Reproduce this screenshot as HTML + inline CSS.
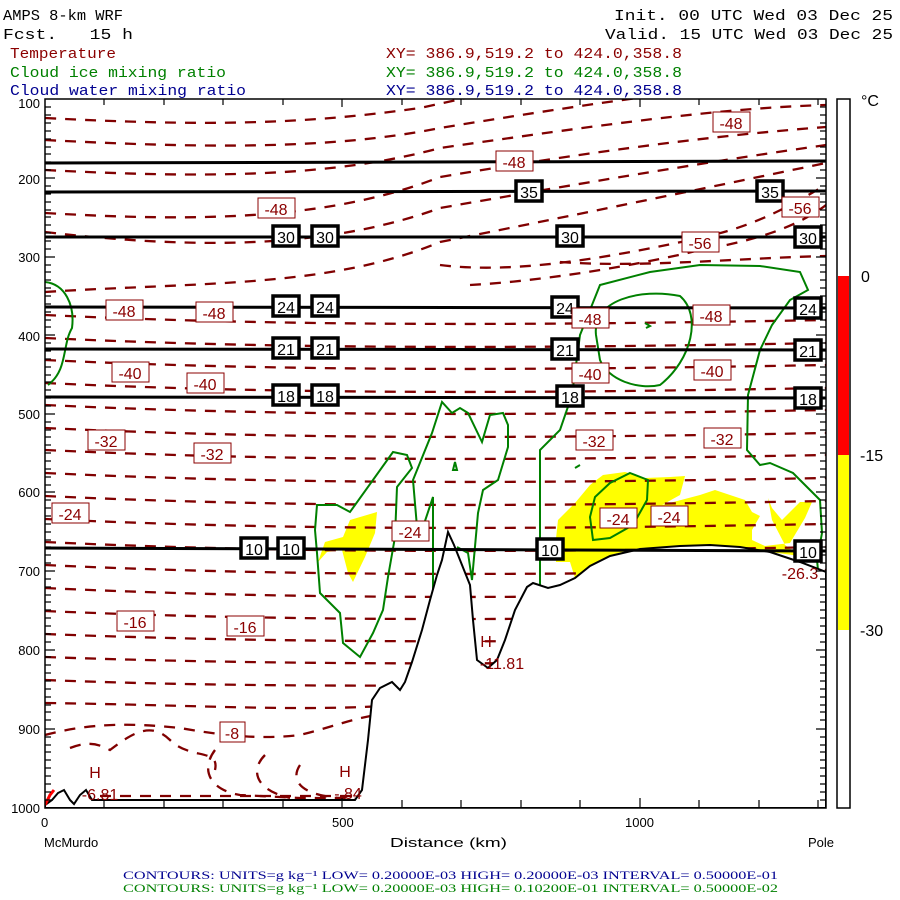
<!DOCTYPE html>
<html><head><meta charset="utf-8"><style>
html,body{margin:0;padding:0;background:#fff;}
svg{display:block;}
</style></head><body>
<svg width="900" height="900" viewBox="0 0 900 900" xmlns="http://www.w3.org/2000/svg" font-family="'Liberation Sans', sans-serif">
<defs>
<clipPath id="pc"><rect x="45" y="99" width="781" height="709"/></clipPath>
</defs>
<rect width="900" height="900" fill="#fff"/>
<!-- header text -->
<g font-family="'Liberation Mono', monospace" font-size="15">
<text x="3" y="20" textLength="120" lengthAdjust="spacingAndGlyphs">AMPS 8-km WRF</text>
<text x="3" y="39" textLength="130" lengthAdjust="spacingAndGlyphs" xml:space="preserve">Fcst.   15 h</text>
<text x="614" y="20" textLength="279" lengthAdjust="spacingAndGlyphs">Init. 00 UTC Wed 03 Dec 25</text>
<text x="605" y="39" textLength="288" lengthAdjust="spacingAndGlyphs">Valid. 15 UTC Wed 03 Dec 25</text>
<text x="10" y="58" fill="#8b0000" textLength="106" lengthAdjust="spacingAndGlyphs">Temperature</text>
<text x="10" y="77" fill="#008000" textLength="216" lengthAdjust="spacingAndGlyphs">Cloud ice mixing ratio</text>
<text x="10" y="95" fill="#000090" textLength="236" lengthAdjust="spacingAndGlyphs">Cloud water mixing ratio</text>
<text x="386" y="58" fill="#8b0000" textLength="296" lengthAdjust="spacingAndGlyphs">XY= 386.9,519.2 to 424.0,358.8</text>
<text x="386" y="77" fill="#008000" textLength="296" lengthAdjust="spacingAndGlyphs">XY= 386.9,519.2 to 424.0,358.8</text>
<text x="386" y="95" fill="#000090" textLength="296" lengthAdjust="spacingAndGlyphs">XY= 386.9,519.2 to 424.0,358.8</text>
</g>

<g clip-path="url(#pc)">
<!-- yellow cloud water-ish shading -->
<path d="M555,548 L558,520 L575,503 L590,485 L603,475 L625,472 L645,478 L670,477 L685,476 L680,495 L662,505 L700,495 L715,490 L730,495 L745,500 L752,512 L760,516 L752,530 L752,540 L765,546 L790,543 L805,518 L812,502 L800,502 L782,520 L772,508 L768,498 L772,520 L785,545 L800,556 L770,552 L740,547 L700,545 L640,548 L610,555 L590,565 L575,578 L570,562 L556,562 Z" fill="#ffff00"/>
<path d="M377,512 L350,520 L343,537 L325,542 L318,562 L327,552 L342,550 L348,573 L353,582 L365,557 L375,533 Z" fill="#ffff00"/>

<!-- temperature dashed contours -->
<g fill="none" stroke="#800000" stroke-width="2.3" stroke-dasharray="11 9">
<path d="M45,118 C200,126 300,125 420,108 L480,95"/>
<path d="M45,140 C200,148 330,150 440,128 C550,110 620,100 660,95"/>
<path d="M45,170 C200,178 330,178 440,148 C600,125 720,108 826,105"/>
<path d="M45,213 C200,222 330,220 440,177 C600,150 720,135 826,127"/>
<path d="M45,232 C200,250 330,248 440,208 C600,180 720,160 826,145"/>
<path d="M45,292 C200,282 330,288 440,242 C600,210 720,185 826,163"/>
<path d="M440,265 C520,275 620,255 700,238 C760,225 790,205 826,185"/>
<path d="M470,285 C560,280 660,260 700,250 C760,240 800,225 826,205"/>
<path d="M560,262 C640,268 740,258 826,256"/>
<path d="M45,315 C300,327 550,325 826,320"/>
<path d="M45,338 C300,350 550,348 826,343"/>
<path d="M45,360 C300,372 550,370 826,365"/>
<path d="M45,383 C300,395 550,393 826,388"/>
<path d="M45,405 C300,417 550,415 826,410"/>
<path d="M45,428 C300,440 550,438 826,433"/>
<path d="M45,450 C300,462 550,460 826,455"/>
<path d="M45,473 C300,485 550,483 826,478"/>
<path d="M45,496 C300,508 550,506 826,501"/>
<path d="M45,519 C300,531 550,529 826,524"/>
<path d="M45,542 C300,554 550,552 826,547"/>
<path d="M45,565 C300,577 550,575 826,570"/>
<path d="M45,588 C300,600 550,598 826,593"/>
<path d="M45,611 C300,622 550,620 826,615"/>
<path d="M45,634 C300,644 550,642 826,638"/>
<path d="M45,657 C300,666 550,664 826,660"/>
<path d="M45,680 C250,688 450,686 826,683"/>
<path d="M45,703 C200,705 300,712 400,705"/>
<path d="M45,735 C100,720 150,725 180,728 C220,735 260,740 300,735 C340,725 360,715 400,712"/>
<path d="M70,748 C90,740 100,745 110,750 C130,735 150,720 170,740 C190,760 220,748 215,770"/>
<path d="M215,750 C200,770 210,790 240,795 L300,798 L355,798"/>
<path d="M265,755 C250,770 255,790 290,798"/>
<path d="M300,765 C290,780 300,795 340,798"/>
<path d="M100,796 L355,796"/>
</g>

<!-- cloud ice green contours -->
<g fill="none" stroke="#008000" stroke-width="2">
<path d="M45,282 C65,284 75,305 72,328 C62,345 68,370 48,385"/>
<path d="M315,530 L317,505 L337,505 L350,512 L393,452 L407,455 L412,468 L397,487 L395,537 L388,577 L383,610 L373,633 L360,657 L343,643 L340,613 L320,593 L317,553 Z"/>
<path d="M433,600 L433,497 L423,527 L417,527 L413,480 L432,433 L442,402 L452,413 L460,408 L468,413 L482,442 L490,415 L503,413 L508,425 L508,447 L498,480 L483,490 L478,513 L472,580 L468,553 L457,547"/>
<path d="M540,585 L540,450 L560,430 L572,395 L580,335 L600,285 L650,272 L700,265 L760,266 L800,272 L808,290 L790,300 L772,325 L760,350 L748,395 L747,450 L760,465 L770,463 L793,473 L820,500 L822,533 L817,560 L818,570"/>
<path d="M596,335 C592,300 640,288 680,296 C702,315 692,360 660,385 C638,390 608,380 600,360 Z"/>
<path d="M630,473 L648,480 L647,500 L633,525 L610,538 L593,540 L590,517 L595,497 L610,483 Z"/>
<path d="M455,462 L457,470 L453,470 Z"/>
<path d="M645,323 L650,326 L646,328"/>
<path d="M575,468 L580,465"/>
</g>

<!-- terrain -->
<path d="M45,805 L52,800 L58,793 L64,790 L70,800 L74,804 L80,795 L86,790 L92,800 L100,800 L355,800 L362,790 L368,740 L372,700 L380,688 L392,682 L400,690 L405,682 L412,662 L422,630 L430,600 L437,575 L442,560 L448,532 L454,545 L460,560 L466,575 L470,585 L473,620 L477,660 L488,668 L497,660 L505,640 L515,610 L527,587 L533,583 L548,588 L560,585 L575,578 L590,566 L610,556 L640,549 L680,546 L710,545 L740,547 L770,552 L800,562 L826,572 L826,808 L45,808 Z" fill="#fff" stroke="#000" stroke-width="2"/>
<path d="M45,805 L50,795 L54,790" stroke="#ff0000" stroke-width="3" fill="none"/>

<!-- isentropes (black) -->
<g stroke="#000" stroke-width="3" fill="none">
<path d="M45,163 L826,161"/>
<path d="M45,192 L826,191"/>
<path d="M45,237 L826,237"/>
<path d="M45,307 L826,308"/>
<path d="M45,349 L826,350"/>
<path d="M45,397 L826,398"/>
<path d="M45,548 L826,551"/>
</g>
</g>

<!-- black labels -->
<g font-size="16" text-anchor="middle">
<g fill="#fff" stroke="#000" stroke-width="3.5">
<rect x="516" y="181" width="26" height="20"/><rect x="757" y="181" width="26" height="20"/>
<rect x="273" y="226" width="26" height="20"/><rect x="312" y="226" width="26" height="20"/><rect x="557" y="226" width="26" height="20"/><rect x="795" y="227" width="26" height="20"/>
<rect x="273" y="296" width="26" height="20"/><rect x="312" y="296" width="26" height="20"/><rect x="552" y="297" width="26" height="20"/><rect x="795" y="298" width="26" height="20"/>
<rect x="273" y="338" width="26" height="20"/><rect x="312" y="338" width="26" height="20"/><rect x="552" y="339" width="26" height="20"/><rect x="795" y="340" width="26" height="20"/>
<rect x="273" y="385" width="26" height="20"/><rect x="312" y="385" width="26" height="20"/><rect x="557" y="386" width="26" height="20"/><rect x="795" y="388" width="26" height="20"/>
<rect x="241" y="538" width="26" height="20"/><rect x="278" y="538" width="26" height="20"/><rect x="537" y="539" width="26" height="20"/><rect x="795" y="541" width="26" height="20"/>
</g>
<text x="529" y="198">35</text><text x="770" y="198">35</text>
<text x="286" y="243">30</text><text x="325" y="243">30</text><text x="570" y="243">30</text><text x="808" y="244">30</text>
<text x="286" y="313">24</text><text x="325" y="313">24</text><text x="565" y="314">24</text><text x="808" y="315">24</text>
<text x="286" y="355">21</text><text x="325" y="355">21</text><text x="565" y="356">21</text><text x="808" y="357">21</text>
<text x="286" y="402">18</text><text x="325" y="402">18</text><text x="570" y="403">18</text><text x="808" y="405">18</text>
<text x="254" y="555">10</text><text x="291" y="555">10</text><text x="550" y="556">10</text><text x="808" y="558">10</text>
</g>

<!-- red labels -->
<g font-size="16" text-anchor="middle" fill="#8b0000">
<g fill="#fff" stroke="#8b0000" stroke-width="1">
<rect x="713" y="112" width="37" height="20"/><rect x="496" y="151" width="37" height="20"/><rect x="258" y="198" width="37" height="20"/>
<rect x="782" y="197" width="37" height="20"/><rect x="682" y="232" width="37" height="20"/>
<rect x="106" y="300" width="37" height="20"/><rect x="196" y="302" width="37" height="20"/><rect x="572" y="308" width="37" height="20"/><rect x="693" y="305" width="37" height="20"/>
<rect x="112" y="362" width="37" height="20"/><rect x="187" y="373" width="37" height="20"/><rect x="572" y="363" width="37" height="20"/><rect x="694" y="360" width="37" height="20"/>
<rect x="88" y="430" width="37" height="20"/><rect x="194" y="443" width="37" height="20"/><rect x="576" y="430" width="37" height="20"/><rect x="704" y="428" width="37" height="20"/>
<rect x="52" y="503" width="37" height="20"/><rect x="392" y="521" width="37" height="20"/><rect x="600" y="508" width="37" height="20"/><rect x="651" y="506" width="37" height="20"/>
<rect x="117" y="611" width="37" height="20"/><rect x="227" y="616" width="37" height="20"/><rect x="220" y="722" width="25" height="20"/>
</g>
<text x="731" y="129">-48</text><text x="514" y="168">-48</text><text x="276" y="215">-48</text>
<text x="800" y="214">-56</text><text x="700" y="249">-56</text>
<text x="124" y="317">-48</text><text x="214" y="319">-48</text><text x="590" y="325">-48</text><text x="711" y="322">-48</text>
<text x="130" y="379">-40</text><text x="205" y="390">-40</text><text x="590" y="380">-40</text><text x="712" y="377">-40</text>
<text x="106" y="447">-32</text><text x="212" y="460">-32</text><text x="594" y="447">-32</text><text x="722" y="445">-32</text>
<text x="70" y="520">-24</text><text x="410" y="538">-24</text><text x="618" y="525">-24</text><text x="669" y="523">-24</text>
<text x="135" y="628">-16</text><text x="245" y="633">-16</text><text x="232" y="739">-8</text>
<text x="95" y="778">H</text><text x="345" y="777">H</text><text x="486" y="647">H</text>
<text x="100" y="800">-6.81</text><text x="348" y="799">-.84</text><text x="502" y="669">-11.81</text><text x="800" y="579">-26.3</text>
</g>

<!-- frame -->
<rect x="45" y="99" width="781" height="709" fill="none" stroke="#000" stroke-width="1.5"/>
<!-- ticks -->
<g stroke="#000" stroke-width="1.2">
<path d="M45,107h6M45,115h6M45,123h6M45,131h6M45,139h6M45,147h6M45,154h6M45,162h6M45,170h6M45,178h10M45,186h6M45,194h6M45,202h6M45,210h6M45,217h6M45,225h6M45,233h6M45,241h6M45,249h6M45,257h10M45,265h6M45,272h6M45,280h6M45,288h6M45,296h6M45,304h6M45,312h6M45,320h6M45,327h6M45,335h10M45,343h6M45,351h6M45,359h6M45,367h6M45,375h6M45,382h6M45,390h6M45,398h6M45,406h6M45,414h10M45,422h6M45,430h6M45,437h6M45,445h6M45,453h6M45,461h6M45,469h6M45,477h6M45,485h6M45,492h10M45,500h6M45,508h6M45,516h6M45,524h6M45,532h6M45,540h6M45,547h6M45,555h6M45,563h6M45,571h10M45,579h6M45,587h6M45,595h6M45,602h6M45,610h6M45,618h6M45,626h6M45,634h6M45,642h6M45,650h10M45,657h6M45,665h6M45,673h6M45,681h6M45,689h6M45,697h6M45,705h6M45,712h6M45,720h6M45,729h10M45,737h6M45,745h6M45,752h6M45,760h6M45,768h6M45,776h6M45,784h6M45,792h6M45,800h6"/>
<path d="M826,107h-6M826,115h-6M826,123h-6M826,131h-6M826,139h-6M826,147h-6M826,154h-6M826,162h-6M826,170h-6M826,178h-10M826,186h-6M826,194h-6M826,202h-6M826,210h-6M826,217h-6M826,225h-6M826,233h-6M826,241h-6M826,249h-6M826,257h-10M826,265h-6M826,272h-6M826,280h-6M826,288h-6M826,296h-6M826,304h-6M826,312h-6M826,320h-6M826,327h-6M826,335h-10M826,343h-6M826,351h-6M826,359h-6M826,367h-6M826,375h-6M826,382h-6M826,390h-6M826,398h-6M826,406h-6M826,414h-10M826,422h-6M826,430h-6M826,437h-6M826,445h-6M826,453h-6M826,461h-6M826,469h-6M826,477h-6M826,485h-6M826,492h-10M826,500h-6M826,508h-6M826,516h-6M826,524h-6M826,532h-6M826,540h-6M826,547h-6M826,555h-6M826,563h-6M826,571h-10M826,579h-6M826,587h-6M826,595h-6M826,602h-6M826,610h-6M826,618h-6M826,626h-6M826,634h-6M826,642h-6M826,650h-10M826,657h-6M826,665h-6M826,673h-6M826,681h-6M826,689h-6M826,697h-6M826,705h-6M826,712h-6M826,720h-6M826,729h-10M826,737h-6M826,745h-6M826,752h-6M826,760h-6M826,768h-6M826,776h-6M826,784h-6M826,792h-6M826,800h-6"/>
<path d="M104,808v-8M164,808v-8M223,808v-8M283,808v-8M342,808v-10M402,808v-8M461,808v-8M521,808v-8M580,808v-8M640,808v-10M699,808v-8M759,808v-8M818,808v-8"/>
<path d="M104,99v6M164,99v6M223,99v6M283,99v6M342,99v8M402,99v6M461,99v6M521,99v6M580,99v6M640,99v8M699,99v6M759,99v6M818,99v6"/>
</g>

<!-- axis labels -->
<g font-size="13" font-family="'Liberation Sans', sans-serif">
<g text-anchor="end">
<text x="40" y="108">100</text><text x="40" y="184">200</text><text x="40" y="262">300</text><text x="40" y="341">400</text>
<text x="40" y="419">500</text><text x="40" y="497">600</text><text x="40" y="576">700</text><text x="40" y="655">800</text>
<text x="40" y="734">900</text><text x="40" y="813">1000</text>
</g>
<text x="41" y="827">0</text><text x="332" y="827">500</text><text x="625" y="827">1000</text>
<text x="44" y="847">McMurdo</text><text x="390" y="847" textLength="117" lengthAdjust="spacingAndGlyphs">Distance (km)</text><text x="808" y="847">Pole</text>
</g>

<!-- colorbar -->
<rect x="837" y="99" width="13" height="709" fill="#fff" stroke="#000" stroke-width="1.5"/>
<rect x="838" y="276" width="11" height="179" fill="#ff0000"/>
<rect x="838" y="455" width="11" height="175" fill="#ffff00"/>
<g font-size="16">
<text x="861" y="106">°C</text><text x="861" y="282">0</text><text x="860" y="461">-15</text><text x="860" y="636">-30</text>
</g>

<!-- footer -->
<g font-family="'Liberation Serif', serif" font-size="11.5">
<text x="123" y="879" fill="#000090" textLength="655" lengthAdjust="spacingAndGlyphs">CONTOURS:  UNITS=g kg⁻¹  LOW= 0.20000E-03  HIGH= 0.20000E-03  INTERVAL=  0.50000E-01</text>
<text x="123" y="892" fill="#008000" textLength="655" lengthAdjust="spacingAndGlyphs">CONTOURS:  UNITS=g kg⁻¹  LOW= 0.20000E-03  HIGH= 0.10200E-01  INTERVAL=  0.50000E-02</text>
</g>
</svg>
</body></html>
